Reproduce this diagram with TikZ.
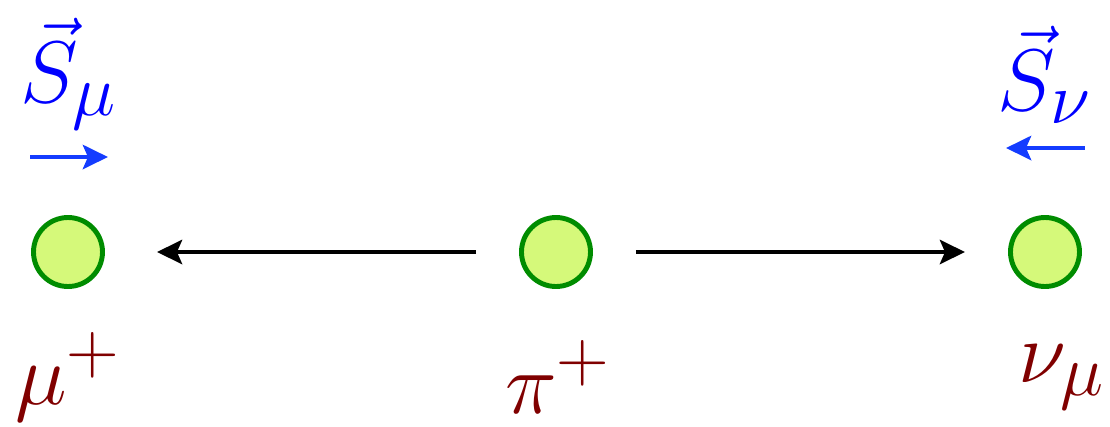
\documentclass[tikz,border=0pt]{standalone}
\usepackage{amsmath}
\usepackage{xcolor}
\usetikzlibrary{positioning,arrows.meta,calc}
\definecolor{spinblue}{RGB}{20,60,255}
\definecolor{partred}{RGB}{128,0,0}
\definecolor{ballfill}{RGB}{213,249,122}
\definecolor{ballline}{RGB}{0,140,0}

\begin{document}
\begin{tikzpicture}[
    ball/.style={circle, draw=ballline, fill=ballfill, line width=1.4pt, minimum size=6.9mm, inner sep=0pt},
    part/.style={text=partred, font=\fontsize{28}{32}\selectfont, inner sep=0pt},
    spin/.style={text=blue, font=\fontsize{28}{32}\selectfont, inner sep=0pt},
    flight/.style={-{Stealth[length=2.5mm, width=2.4mm, inset=0.5mm]}, line width=1.4pt},
    spinarr/.style={flight, draw=spinblue}]
    \useasboundingbox (0,0) rectangle (11.1,4.26);
    % particles
    \node[ball] (mu) at (0.68,1.74) {};
    \node[ball] (pi) at (5.56,1.74) {};
    \node[ball] (nu) at (10.45,1.74) {};
    \node[part] (mulbl) at (0.68,0.49) {$\mu^+$};
    \node[part] (pilbl) at (5.58,0.49) {$\pi^+$};
    \node[part] (nulbl) at (10.62,0.49) {$\nu_\mu$};
    % spins
    \node[spin] (smu) at (0.69,3.52) {$\vec{S}_\mu$};
    \node[spin] (snu) at (10.45,3.51) {$\vec{S}_\nu$};
    \coordinate (smutail) at (0.30,2.69);
    \coordinate (smuhead) at (1.08,2.69);
    \coordinate (snutail) at (10.85,2.78);
    \coordinate (snuhead) at (10.06,2.78);
    % edges
    \draw[flight, shorten <=4.3mm, shorten >=5.2mm] (pi) -- (mu);
    \draw[flight, shorten <=4.3mm, shorten >=4.3mm] (pi) -- (nu);
    \draw[spinarr] (smutail) -- (smuhead);
    \draw[spinarr] (snutail) -- (snuhead);
\end{tikzpicture}
\end{document}
